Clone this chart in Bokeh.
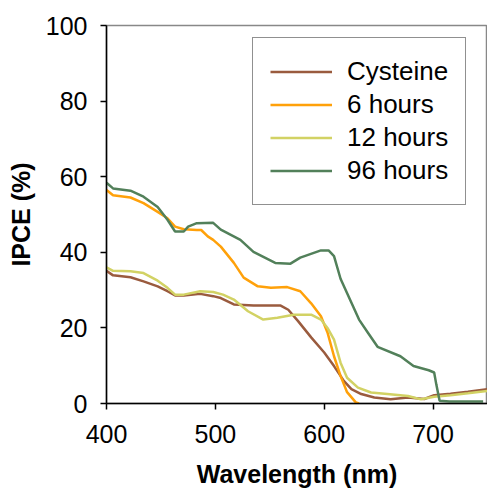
from bokeh.plotting import figure
from bokeh.models import FixedTicker, Range1d, Legend, LegendItem
from bokeh.embed import file_html
from bokeh.resources import INLINE

# ---- data ----
cys_x = [400, 406, 422, 434, 447, 456, 463, 471, 486, 498, 505, 517, 535, 560, 567, 576, 588, 600, 609, 618, 625, 634, 646, 661, 677, 692, 701, 716, 732, 750]
cys_y = [35.1, 33.9, 33.4, 32.3, 31.0, 29.7, 28.6, 28.6, 29.0, 28.4, 27.9, 26.2, 25.9, 25.9, 24.8, 21.8, 17.5, 13.5, 9.9, 6.0, 3.8, 2.5, 1.6, 1.1, 1.6, 1.2, 2.2, 2.6, 3.1, 3.8]

h6_x = [400, 406, 422, 434, 447, 456, 463, 471, 483, 487, 493, 498, 505, 517, 526, 539, 551, 566, 578, 588, 597, 603, 609, 615, 621, 629, 632]
h6_y = [56.5, 55.1, 54.5, 53.0, 50.7, 49.0, 46.8, 46.1, 45.9, 45.9, 44.2, 43.3, 41.5, 37.2, 33.3, 31.0, 30.6, 30.8, 29.7, 26.5, 23.1, 18.8, 12.5, 7.3, 3.0, 0.3, 0.0]

h12_x = [400, 406, 422, 434, 447, 456, 463, 471, 486, 498, 507, 517, 530, 544, 557, 572, 588, 597, 603, 609, 615, 621, 631, 643, 658, 677, 689, 701, 716, 732, 750]
h12_y = [36.0, 35.1, 35.0, 34.5, 32.5, 30.6, 28.8, 28.8, 29.7, 29.5, 28.8, 27.5, 24.4, 22.2, 22.7, 23.5, 23.5, 22.2, 20.0, 16.9, 10.8, 6.8, 4.2, 2.9, 2.5, 2.0, 1.1, 1.8, 2.2, 2.7, 3.3]

h96_x = [400, 406, 422, 434, 447, 456, 463, 471, 475, 483, 498, 505, 523, 535, 555, 569, 578, 597, 604, 609, 615, 632, 640, 649, 670, 682, 696, 701, 703, 706, 715, 746]
h96_y = [58.4, 56.9, 56.3, 54.7, 52.0, 48.6, 45.5, 45.5, 46.8, 47.7, 47.8, 46.0, 43.3, 40.1, 37.2, 37.0, 38.6, 40.5, 40.5, 39.0, 33.0, 22.2, 18.8, 15.0, 12.5, 9.9, 8.8, 8.2, 5.0, 0.7, 0.5, 0.5]

labels = ["Cysteine", "6 hours", "12 hours", "96 hours"]
colors = ["#9A5B3E", "#FFA10A", "#D2D264", "#52805A"]
x_ticks = [400, 500, 600, 700]
y_ticks = [0, 20, 40, 60, 80, 100]

FONT = "Liberation Sans"

p = figure(width=487, height=490, output_backend="svg", toolbar_location=None,
           x_range=Range1d(400, 750), y_range=Range1d(0, 100),
           min_border_left=106, min_border_right=0, min_border_top=25, min_border_bottom=86)

p.xgrid.visible = False
p.ygrid.visible = False
p.outline_line_color = "#888888"
p.outline_line_width = 1.5
p.background_fill_color = "white"
p.border_fill_color = "white"

series = [(cys_x, cys_y), (h6_x, h6_y), (h12_x, h12_y), (h96_x, h96_y)]
renderers = []
for (xs, ys), c in zip(series, colors):
    r = p.line(xs, ys, line_color=c, line_width=2.5)
    renderers.append(r)

for ax in (p.xaxis[0], p.yaxis[0]):
    ax.axis_line_color = "black"
    ax.axis_line_width = 1.5
    ax.major_tick_line_color = "black"
    ax.major_tick_line_width = 1.5
    ax.major_tick_out = 6
    ax.major_tick_in = 0
    ax.minor_tick_line_color = None
    ax.major_label_text_font = FONT
    ax.major_label_text_font_size = "25px"
    ax.major_label_text_color = "black"
    ax.axis_label_text_font = FONT
    ax.axis_label_text_font_size = "25px"
    ax.axis_label_text_font_style = "bold"
    ax.axis_label_text_color = "black"

p.xaxis.ticker = FixedTicker(ticks=x_ticks)
p.yaxis.ticker = FixedTicker(ticks=y_ticks)
p.xaxis.axis_label = "Wavelength (nm)"
p.yaxis.axis_label = "IPCE (%)"
p.xaxis.major_label_standoff = 15
p.yaxis.major_label_standoff = 13
p.xaxis.axis_label_standoff = 14
p.yaxis.axis_label_standoff = 8

legend = Legend(items=[LegendItem(label=l, renderers=[r]) for l, r in zip(labels, renderers)],
                location=(146, 198))
legend.margin = 0
legend.padding = 17
legend.spacing = 0
legend.glyph_width = 62
legend.glyph_height = 33
legend.label_height = 33
legend.label_standoff = 15
legend.label_text_font = FONT
legend.label_text_font_size = "26px"
legend.label_text_color = "black"
legend.border_line_color = "#222222"
legend.border_line_width = 1.5
legend.background_fill_color = "white"
legend.background_fill_alpha = 1.0
p.add_layout(legend)

open("out.html", "w").write(file_html(p, INLINE))
